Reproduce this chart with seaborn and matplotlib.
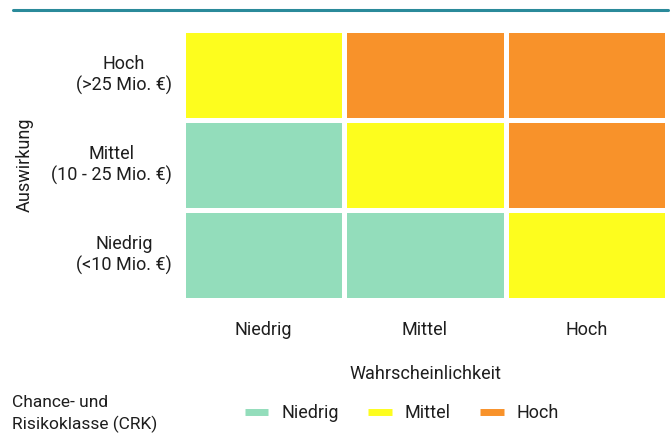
import numpy as np
import pandas as pd
import seaborn as sns
import matplotlib.pyplot as plt
from matplotlib.colors import ListedColormap
from matplotlib.lines import Line2D

# Risk matrix data
probability = ['Niedrig', 'Mittel', 'Hoch']
impact = ['Hoch\n(>25 Mio. €)', 'Mittel\n(10 - 25 Mio. €)', 'Niedrig\n(<10 Mio. €)']
crk_classes = ['Niedrig', 'Mittel', 'Hoch']
crk_colors = ['#93ddbb', '#fdfd1e', '#f8922a']

# class index per cell (rows = impact from top, cols = probability)
row_hoch = [1, 2, 2]
row_mittel = [0, 1, 2]
row_niedrig = [0, 0, 1]

sns.set_theme(style='white')
plt.rcParams['font.family'] = ['Roboto', 'DejaVu Sans']
text_color = '#1e1e1e'

df = pd.DataFrame([row_hoch, row_mittel, row_niedrig], index=impact, columns=probability)

fig = plt.figure(figsize=(6.72, 4.34), dpi=100)
ax = fig.add_axes([0.2723, 0.3088, 0.7202, 0.6221])

sns.heatmap(df, ax=ax, cmap=ListedColormap(crk_colors), vmin=-0.5, vmax=2.5,
            cbar=False, linewidths=2.5, linecolor='white')

ax.tick_params(axis='both', length=0, labelsize=13, colors=text_color)
ax.tick_params(axis='x', pad=15)
ax.tick_params(axis='y', pad=8)
plt.setp(ax.get_yticklabels(), rotation=0, multialignment='center')
plt.setp(ax.get_xticklabels(), rotation=0)

ax.set_xlabel('Wahrscheinlichkeit', fontsize=13, color=text_color)
ax.xaxis.set_label_coords(0.5, -0.24)
ax.set_ylabel('Auswirkung', fontsize=13, color=text_color)
ax.yaxis.set_label_coords(-0.308, 0.5)

# teal rule at the top
fig.add_artist(Line2D([0.019, 0.994], [0.978, 0.978], color='#2a8a9a', lw=2.2))

# legend
handles = [Line2D([0], [0], color=c, lw=5, solid_capstyle='butt') for c in crk_colors]
fig.legend(handles, crk_classes, loc='center', bbox_to_anchor=(0.598, 0.048),
           ncol=3, frameon=False, fontsize=13, handlelength=1.3, handletextpad=0.7,
           columnspacing=1.65, labelcolor=text_color)
fig.text(0.018, 0.046, 'Chance- und\nRisikoklasse (CRK)', ha='left', va='center',
         fontsize=12.5, color=text_color, linespacing=1.4)

fig.savefig('out.png', dpi=100)
